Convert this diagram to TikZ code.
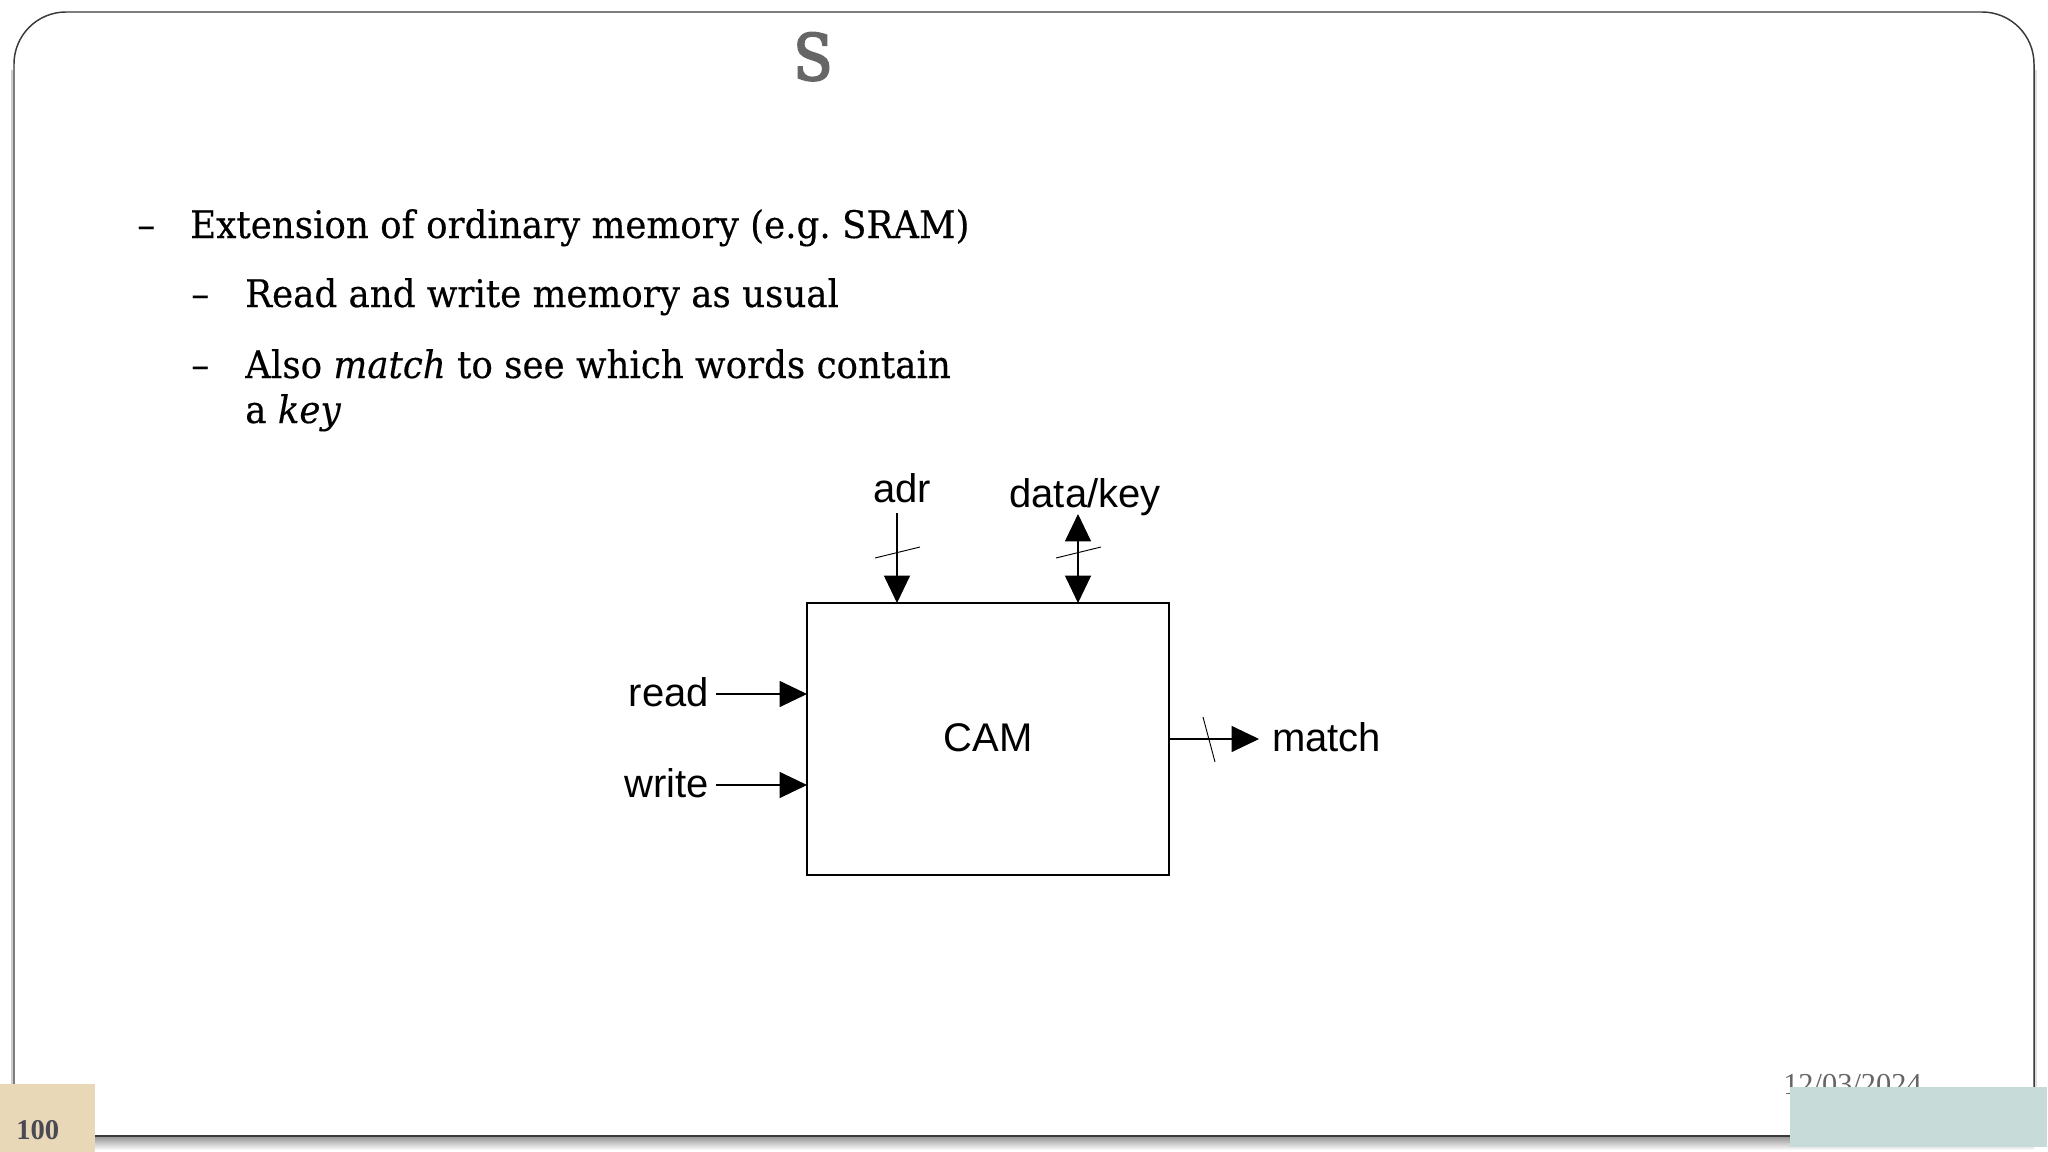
\documentclass[tikz,border=0pt]{standalone}
\usepackage{fontspec}
\usetikzlibrary{arrows.meta}
\setmainfont[FakeStretch=0.938,FakeBold=0.3]{DejaVu Serif}
\newfontfamily\titlefam[FakeStretch=0.9,FakeBold=3]{DejaVu Serif}
\newfontfamily\sansfam{Liberation Sans}
\newfontfamily\datefam{Liberation Serif}
\definecolor{framec}{HTML}{3A3A3A}
\definecolor{titlec}{HTML}{666666}
\definecolor{beige}{HTML}{E9D8B8}
\definecolor{teal2}{HTML}{C7DBD8}
\definecolor{numc}{HTML}{4A4A55}
\tikzset{
  body/.style={anchor=base west, inner sep=0pt, font=\fontsize{28.5}{34}\selectfont\frenchspacing, text=black},
  lbl/.style={anchor=base, inner sep=0pt, font=\sansfam\fontsize{30}{36}\selectfont, text=black},
  wire/.style={draw=black, line width=0.8pt},
  tick/.style={draw=black, line width=0.7pt},
  tip/.style={-{Triangle[length=20.5pt,width=19.5pt]}},
  tips/.style={{Triangle[length=20.5pt,width=19.5pt]}-{Triangle[length=20.5pt,width=19.5pt]}},
}
\begin{document}
\begin{tikzpicture}[x=0.75pt, y=-0.75pt]
    \useasboundingbox (0,0) rectangle (2048,1152);
    \fill[white] (0,0) rectangle (2048,1152);
    % Shadow under and left of the frame
    \shade[top color=gray!80, bottom color=white] (14,1137) rectangle (2034,1150);
    \draw[gray!40, line width=1.5pt] (12,70) -- (12,1090);
    \draw[gray!25, line width=1.5pt] (2036,70) -- (2036,1090);
    % Frame, round at the top only
    \draw[framec, line width=1.1pt, rounded corners=39pt] (14,1136) -- (14,12) -- (2034,12) -- (2034,1136);
    \draw[framec, line width=1.8pt] (14,1136) -- (2034,1136);
    % Title and bullets
    \node[anchor=base, inner sep=0pt, text=titlec, font=\titlefam\fontsize{48}{56}\selectfont] (title) at (813,80) {S};
    \node[body] (d1) at (137,238) {–};
    \node[body] (t1) at (190,238) {Extension of ordinary memory (e.g. SRAM)};
    \node[body] (d2) at (191,307) {–};
    \node[body] (t2) at (245,307) {Read and write memory as usual};
    \node[body] (d3) at (191,378) {–};
    \node[body] (t3) at (245,378) {Also \textit{match} to see which words contain};
    \node[body] (t4) at (245,423) {a \textit{key}};
    % CAM block
    \node[draw=black, line width=0.8pt, minimum width=271.5pt, minimum height=204pt, inner sep=0pt, outer sep=0pt] (cam) at (988,739) {};
    \node[lbl] (camlbl) at (988,751) {CAM};
    \node[lbl] (adr) at (902,502) {adr};
    \node[lbl] (datakey) at (1085,507) {data/key};
    \node[lbl, anchor=base east] (read) at (709,706) {read};
    \node[lbl, anchor=base east] (write) at (709,797) {write};
    \node[lbl, anchor=base west] (match) at (1272,751) {match};
    % Connectors
    \coordinate (adrin) at (897,513);
    \coordinate (datain) at (1078,514);
    \coordinate (readin) at (716,694);
    \coordinate (writein) at (716,785);
    \coordinate (matchout) at (1259,739);
    \draw[wire, tip] (adrin) -- (adrin |- cam.north);
    \draw[wire, tips] (datain) -- (datain |- cam.north);
    \draw[wire, tip] (readin) -- (readin -| cam.west);
    \draw[wire, tip] (writein) -- (writein -| cam.west);
    \draw[wire, tip] (matchout -| cam.east) -- (matchout);
    % Bus ticks
    \coordinate (s1a) at (875,558); \coordinate (s1b) at (920,547);
    \coordinate (s2a) at (1056,558); \coordinate (s2b) at (1101,547);
    \coordinate (s3a) at (1203,717); \coordinate (s3b) at (1215,762);
    \draw[tick] (s1a) -- (s1b);
    \draw[tick] (s2a) -- (s2b);
    \draw[tick] (s3a) -- (s3b);
    % Footer
    \node[anchor=base west, inner sep=0pt, text=titlec, font=\datefam\fontsize{22.8}{27}\selectfont] (date) at (1783,1094) {12/03/2024};
    \fill[teal2] (1790,1087) rectangle (2047,1147);
    \fill[beige] (0,1084) rectangle (95,1152);
    \node[anchor=base west, inner sep=0pt, text=numc, font=\datefam\bfseries\fontsize{21.5}{26}\selectfont] (num) at (16,1139) {100};
\end{tikzpicture}
\end{document}
